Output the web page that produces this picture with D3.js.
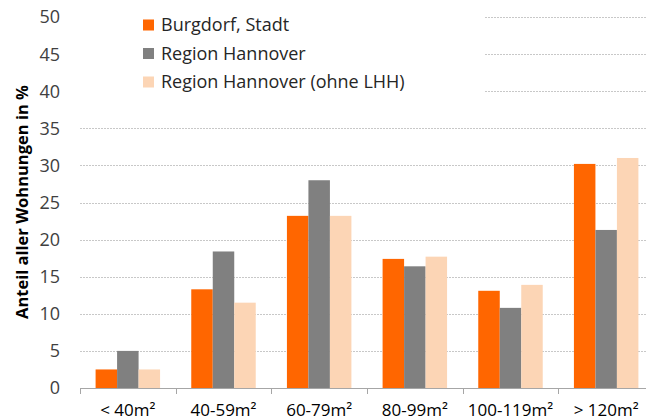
<!DOCTYPE html>
<html>
<head>
<meta charset="utf-8">
<script src="https://cdn.jsdelivr.net/npm/d3@7"></script>
<style>
  body { margin: 0; background: #fff; }
  svg { display: block; font-family: "Open Sans", sans-serif; }
</style>
</head>
<body>
<div id="chart"></div>
<script>
// Chart data
let categories = ["< 40m²", "40-59m²", "60-79m²", "80-99m²", "100-119m²", "> 120m²"];
let seriesNames = ["Burgdorf, Stadt", "Region Hannover", "Region Hannover (ohne LHH)"];
let burgdorf = [2.5, 13.3, 23.2, 17.4, 13.1, 30.2];
let regionHannover = [5.0, 18.4, 28.0, 16.4, 10.8, 21.3];
let regionOhneLHH = [2.5, 11.5, 23.2, 17.7, 13.9, 31.0];
let yTicks = [0, 5, 10, 15, 20, 25, 30, 35, 40, 45, 50];

let colors = ["#FF6600", "#808080", "#FCD5B5"];
let series = [burgdorf, regionHannover, regionOhneLHH];

// Dimensions
let width = 646, height = 420;
let margin = {top: 17, right: -8, bottom: 32, left: 80};

let svg = d3.select("#chart").append("svg")
    .attr("width", width)
    .attr("height", height);

// Scales
let x0 = d3.scaleBand()
    .domain(categories)
    .range([margin.left, width - margin.right])
    .padding(0);

let x1 = d3.scaleBand()
    .domain(d3.range(series.length))
    .range([x0.bandwidth() * 0.163, x0.bandwidth() * 0.837])
    .padding(0);

let y = d3.scaleLinear()
    .domain([0, 50])
    .range([height - margin.bottom, margin.top]);

// Gridlines
svg.append("g").selectAll("line")
    .data(yTicks.filter(d => d > 0))
    .enter().append("line")
    .attr("x1", margin.left)
    .attr("x2", width - margin.right)
    .attr("y1", d => Math.round(y(d)) + 0.5)
    .attr("y2", d => Math.round(y(d)) + 0.5)
    .attr("stroke", "#c8c8c8")
    .attr("stroke-width", 1)
    .attr("stroke-dasharray", "2,1");

// Y tick labels
svg.append("g").selectAll("text")
    .data(yTicks)
    .enter().append("text")
    .attr("x", 60)
    .attr("y", d => y(d))
    .attr("dy", "0.36em")
    .attr("text-anchor", "end")
    .attr("font-size", "18px")
    .attr("fill", "#404040")
    .text(d => d);

// Y axis title
svg.append("text")
    .attr("transform", "translate(28," + 202 + ") rotate(-90)")
    .attr("text-anchor", "middle")
    .attr("font-size", "16.5px")
    .attr("font-weight", "bold")
    .attr("fill", "#000")
    .text("Anteil aller Wohnungen in %");

// Bars
let groups = svg.append("g").selectAll("g")
    .data(categories)
    .enter().append("g")
    .attr("transform", d => "translate(" + x0(d) + ",0)");

groups.selectAll("rect")
    .data((d, i) => series.map((s, j) => ({key: j, value: s[i]})))
    .enter().append("rect")
    .attr("x", d => x1(d.key))
    .attr("y", d => y(d.value))
    .attr("width", x1.bandwidth())
    .attr("height", d => y(0) - y(d.value))
    .attr("fill", d => colors[d.key]);

// X axis line and ticks
let xAxis = svg.append("g");
xAxis.append("line")
    .attr("x1", margin.left)
    .attr("x2", width - margin.right)
    .attr("y1", Math.round(y(0)) + 0.5)
    .attr("y2", Math.round(y(0)) + 0.5)
    .attr("stroke", "#a6a6a6");

xAxis.selectAll(".tick")
    .data(categories.concat([null]))
    .enter().append("line")
    .attr("class", "tick")
    .attr("x1", (d, i) => Math.round(margin.left + i * x0.bandwidth()) + 0.5)
    .attr("x2", (d, i) => Math.round(margin.left + i * x0.bandwidth()) + 0.5)
    .attr("y1", y(0))
    .attr("y2", y(0) + 6)
    .attr("stroke", "#a6a6a6");

xAxis.selectAll("text")
    .data(categories)
    .enter().append("text")
    .attr("x", d => x0(d) + x0.bandwidth() / 2)
    .attr("y", 416)
    .attr("text-anchor", "middle")
    .attr("font-size", "17px")
    .attr("fill", "#000")
    .text(d => d);

// Legend with white background
let legend = svg.append("g");
legend.append("rect")
    .attr("x", margin.left)
    .attr("y", 0)
    .attr("width", 404)
    .attr("height", 110)
    .attr("fill", "#fff");

let items = legend.selectAll(".item")
    .data(seriesNames)
    .enter().append("g")
    .attr("class", "item")
    .attr("transform", (d, i) => "translate(143," + (25 + i * 28.5) + ")");

items.append("rect")
    .attr("x", 0)
    .attr("y", -5.5)
    .attr("width", 11)
    .attr("height", 11)
    .attr("fill", (d, i) => colors[i]);

items.append("text")
    .attr("x", 18)
    .attr("y", 0)
    .attr("dy", "0.36em")
    .attr("font-size", "18px")
    .attr("fill", "#262626")
    .text(d => d);
</script>
</body>
</html>
